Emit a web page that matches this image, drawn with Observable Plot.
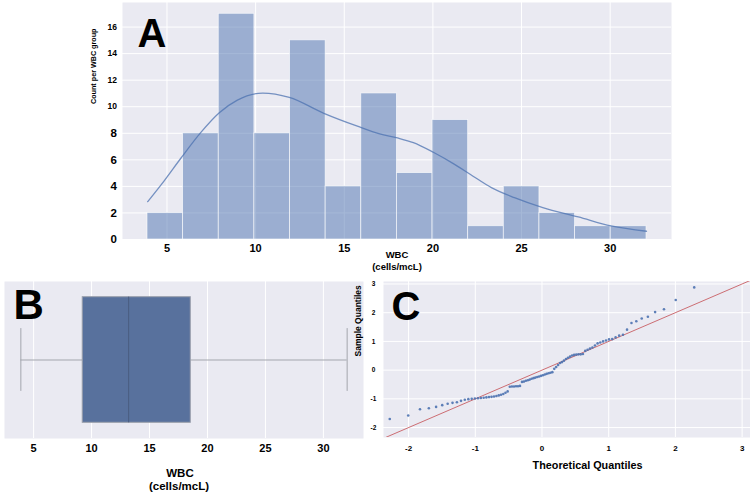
<!DOCTYPE html>
<html>
<head>
<meta charset="utf-8">
<script src="https://cdn.jsdelivr.net/npm/d3@7"></script>
<script src="https://cdn.jsdelivr.net/npm/@observablehq/plot@0.6"></script>
<style>
  body { margin: 0; background: #ffffff; }
  #fig { position: relative; width: 750px; height: 499px; overflow: hidden; }
  #fig svg { position: absolute; overflow: visible; }
</style>
</head>
<body>
<div id="fig"></div>
<script>
// ---- Histogram of WBC (panel A) ----
const binEdges  = [3.9, 5.91, 7.92, 9.93, 11.94, 13.95, 15.96, 17.97, 19.98, 21.99, 24.0, 26.01, 28.02, 30.03, 32.05];
const binCounts = [2, 8, 17, 8, 15, 4, 11, 5, 9, 1, 4, 2, 1, 1];

// kernel density estimate, scaled to counts
const kdeX = [3.91, 4.83, 5.77, 6.9, 7.95, 8.97, 10.4, 11.9, 13.85, 15.7, 17.0, 18.0, 18.9, 20.05, 21.2, 22.1, 23.3, 24.6, 26.2, 28.2, 30.05, 32.05];
const kdeY = [2.85, 4.4, 6.1, 8.05, 9.55, 10.5, 11.03, 10.7, 9.5, 8.55, 7.95, 7.65, 7.3, 6.55, 5.68, 4.92, 3.91, 3.15, 2.4, 1.7, 1.02, 0.62];

const wbcTicks   = [5, 10, 15, 20, 25, 30];
const countTicks = [0, 2, 4, 6, 8, 10, 12, 14, 16];

// ---- Box plot of WBC (panel B) ----
const boxLabels = ["min", "q1", "median", "q3", "max"];
const boxValues = [3.9, 9.24, 13.2, 18.56, 32.05];

// ---- Normal Q-Q plot of standardised WBC (panel C), sorted sample quantiles ----
const sampleQuantiles = [
  -1.70, -1.58, -1.36, -1.33, -1.28, -1.22, -1.17, -1.14, -1.12, -1.07,
  -1.03, -1.01, -1.00, -0.99, -0.98, -0.97, -0.96, -0.95, -0.94, -0.93,
  -0.92, -0.90, -0.88, -0.86, -0.83, -0.79, -0.74, -0.58, -0.57, -0.57,
  -0.56, -0.56, -0.55, -0.41, -0.40, -0.37, -0.35, -0.33, -0.30, -0.28,
  -0.26, -0.24, -0.22, -0.20, -0.18, -0.15, -0.13, -0.11, -0.09, -0.07,
   0.045, 0.11, 0.18, 0.25, 0.28, 0.33, 0.39, 0.43, 0.47, 0.51,
   0.53, 0.54, 0.55, 0.55, 0.56, 0.67, 0.71, 0.75, 0.79, 0.86,
   0.93, 0.96, 1.00, 1.03, 1.07, 1.08, 1.14, 1.20, 1.23, 1.41,
   1.64, 1.70, 1.80, 1.86, 2.02, 2.12, 2.44, 2.88
];
const qqTicks = [-2, -1, 0, 1, 2, 3];

// ---- helpers ----
const FONT = "'Liberation Sans', Arial, Helvetica, sans-serif";
const BG = "#eaeaf2";
const BLUE = "#4c72b0";

// inverse standard normal CDF (Acklam's rational approximation)
function normalQuantile(p) {
  const a = [-3.969683028665376e+01, 2.209460984245205e+02, -2.759285104469687e+02, 1.383577518672690e+02, -3.066479806614716e+01, 2.506628277459239e+00];
  const b = [-5.447609879822406e+01, 1.615858368580409e+02, -1.556989798598866e+02, 6.680131188771972e+01, -1.328068155288572e+01];
  const c = [-7.784894002430293e-03, -3.223964580411365e-01, -2.400758277161838e+00, -2.549732539343734e+00, 4.374664141464968e+00, 2.938163982698783e+00];
  const d = [7.784695709041462e-03, 3.224671290700398e-01, 2.445134137142996e+00, 3.754408661907416e+00];
  const pl = 0.02425;
  if (p < pl) {
    const q = Math.sqrt(-2 * Math.log(p));
    return (((((c[0]*q+c[1])*q+c[2])*q+c[3])*q+c[4])*q+c[5]) / ((((d[0]*q+d[1])*q+d[2])*q+d[3])*q+1);
  }
  if (p > 1 - pl) {
    const q = Math.sqrt(-2 * Math.log(1 - p));
    return -(((((c[0]*q+c[1])*q+c[2])*q+c[3])*q+c[4])*q+c[5]) / ((((d[0]*q+d[1])*q+d[2])*q+d[3])*q+1);
  }
  const q = p - 0.5, r = q * q;
  return (((((a[0]*r+a[1])*r+a[2])*r+a[3])*r+a[4])*r+a[5])*q / (((((b[0]*r+b[1])*r+b[2])*r+b[3])*r+b[4])*r+1);
}

const fig = document.getElementById("fig");
function place(svg, left, top) {
  svg.style.left = left + "px";
  svg.style.top = top + "px";
  fig.appendChild(svg);
}
const bold = {fontFamily: FONT, fontWeight: "bold", fill: "#000"};

// ---- Panel A: histogram with KDE ----
const bins = binCounts.map((n, i) => ({x1: binEdges[i], x2: binEdges[i + 1], count: n}));
const kde = kdeX.map((x, i) => ({x, y: kdeY[i]}));

const panelA = Plot.plot({
  width: 750, height: 290,
  marginLeft: 122, marginRight: 79, marginTop: 2, marginBottom: 51,
  style: {background: "transparent", overflow: "visible", fontFamily: FONT},
  x: {domain: [2.49, 33.46], axis: null},
  y: {domain: [0, 17.85], axis: null},
  marks: [
    Plot.frame({fill: BG, stroke: null}),
    Plot.ruleX(wbcTicks, {stroke: "#ffffff", strokeWidth: 1}),
    Plot.ruleY(countTicks, {stroke: "#ffffff", strokeWidth: 1}),
    Plot.rectY(bins, {x1: "x1", x2: "x2", y: "count", fill: BLUE, fillOpacity: 0.5,
      stroke: "#ffffff", strokeWidth: 0.8, strokeOpacity: 0.75}),
    Plot.line(kde, {x: "x", y: "y", curve: "monotone-x", stroke: BLUE, strokeOpacity: 0.75, strokeWidth: 1.3}),
    Plot.text(wbcTicks, {x: d => d, text: d => String(d), frameAnchor: "bottom", dy: 12, fontSize: 11, ...bold}),
    Plot.text(countTicks, {y: d => d, text: d => String(d), frameAnchor: "left", dx: -5.5, textAnchor: "end",
      fontSize: d => (d >= 10 ? 8.5 : 11.5), ...bold}),
    Plot.text(["Count per WBC group"], {frameAnchor: "left", dx: -29, dy: -17, rotate: -90, fontSize: 7.2, ...bold}),
    Plot.text(["WBC"], {frameAnchor: "bottom", dy: 18, fontSize: 9.5, ...bold}),
    Plot.text(["(cells/mcL)"], {frameAnchor: "bottom", dy: 30, fontSize: 9.5, ...bold}),
    Plot.text(["A"], {frameAnchor: "top-left", dx: 15, dy: 16, lineAnchor: "top", textAnchor: "start", fontSize: 40, ...bold})
  ]
});
place(panelA, 0, 0);

// ---- Panel B: horizontal box plot ----
const stat = Object.fromEntries(boxLabels.map((k, i) => [k, boxValues[i]]));
const panelB = Plot.plot({
  width: 370, height: 229,
  marginLeft: 4, marginRight: 7, marginTop: 11, marginBottom: 61,
  style: {background: "transparent", overflow: "visible", fontFamily: FONT},
  x: {domain: [2.49, 33.46], axis: null},
  y: {domain: [0, 1], axis: null},
  marks: [
    Plot.frame({fill: BG, stroke: null}),
    Plot.ruleX(wbcTicks, {stroke: "#ffffff", strokeWidth: 1}),
    // whiskers
    Plot.ruleY([stat], {x1: "min", x2: "q1", y: 0.5, stroke: "#a3a6ad", strokeWidth: 1}),
    Plot.ruleY([stat], {x1: "q3", x2: "max", y: 0.5, stroke: "#a3a6ad", strokeWidth: 1}),
    Plot.ruleX([stat], {x: "min", y1: 0.3, y2: 0.7, stroke: "#a3a6ad", strokeWidth: 1}),
    Plot.ruleX([stat], {x: "max", y1: 0.3, y2: 0.7, stroke: "#a3a6ad", strokeWidth: 1}),
    // box and median
    Plot.rect([stat], {x1: "q1", x2: "q3", y1: 0.1, y2: 0.9, fill: "#58719d", stroke: "#9a9fab", strokeWidth: 1}),
    Plot.ruleX([stat], {x: "median", y1: 0.1, y2: 0.9, stroke: "#4a5c80", strokeWidth: 1}),
    Plot.text(wbcTicks, {x: d => d, text: d => String(d), frameAnchor: "bottom", dy: 13.5, fontSize: 11, ...bold}),
    Plot.text(["WBC"], {frameAnchor: "bottom", dx: -4, dy: 38, fontSize: 11.5, ...bold}),
    Plot.text(["(cells/mcL)"], {frameAnchor: "bottom", dx: -5, dy: 51, fontSize: 11.5, ...bold}),
    Plot.text(["B"], {frameAnchor: "top-left", dx: 9, dy: 8, lineAnchor: "top", textAnchor: "start", fontSize: 42, ...bold})
  ]
});
place(panelB, 0, 270);

// ---- Panel C: normal Q-Q plot ----
const n = sampleQuantiles.length;
const qq = sampleQuantiles.map((s, i) => ({theoretical: normalQuantile((i + 1) / (n + 1)), sample: s}));
const qqX = [-2.376, 3.126];
const panelC = Plot.plot({
  width: 410, height: 229,
  marginLeft: 43, marginRight: 0, marginTop: 11, marginBottom: 62,
  style: {background: "transparent", overflow: "visible", fontFamily: FONT},
  x: {domain: qqX, axis: null},
  y: {domain: [-2.346, 3.086], axis: null},
  marks: [
    Plot.frame({fill: BG, stroke: null}),
    Plot.ruleX(qqTicks, {stroke: "#ffffff", strokeWidth: 1}),
    Plot.ruleY(qqTicks, {stroke: "#ffffff", strokeWidth: 1}),
    // 45-degree reference line
    Plot.line(qqX, {x: d => d, y: d => d, stroke: "#c44e52", strokeOpacity: 0.8, strokeWidth: 1, clip: true}),
    Plot.dot(qq, {x: "theoretical", y: "sample", r: 1.3, fill: BLUE, fillOpacity: 0.9, stroke: null}),
    Plot.text(qqTicks, {x: d => d, text: d => String(d), frameAnchor: "bottom", dy: 13.7, fontSize: 8, ...bold}),
    Plot.text(qqTicks, {y: d => d, text: d => String(d), frameAnchor: "left", dx: -10, textAnchor: "middle", fontSize: 6.5, ...bold}),
    Plot.text(["Sample Quantiles"], {frameAnchor: "left", dx: -25, dy: -3, rotate: -90, fontSize: 8.5, ...bold}),
    Plot.text(["Theoretical Quantiles"], {frameAnchor: "bottom", dx: 20.5, dy: 31, fontSize: 10.8, ...bold}),
    Plot.text(["C"], {frameAnchor: "top-left", dx: 8, dy: 10, lineAnchor: "top", textAnchor: "start", fontSize: 40, ...bold})
  ]
});
place(panelC, 340, 270);
</script>
</body>
</html>
